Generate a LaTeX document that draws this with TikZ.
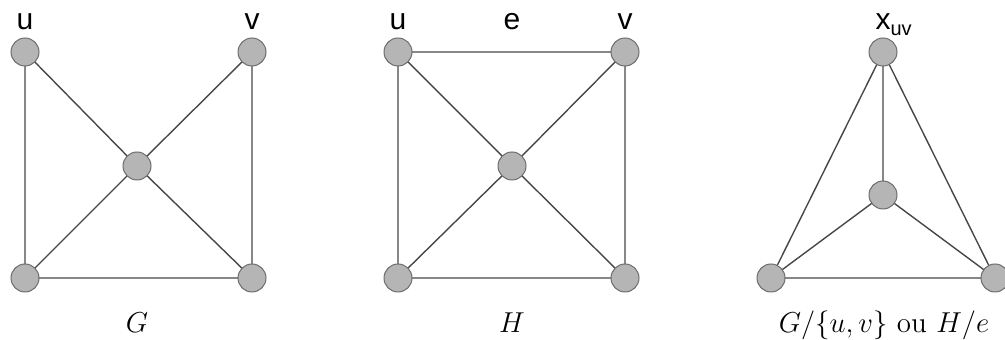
\documentclass[tikz,border=0pt]{standalone}
\usepackage{fontspec}
\newfontfamily\labfont{Liberation Sans}
\begin{document}
\begin{tikzpicture}[x=0.5pt,y=-0.5pt,
  vtx/.style={circle,fill=gray!58,draw=gray!85!black,line width=0.5pt,minimum size=14pt,inner sep=0pt},
  edge/.style={draw=black!72,line width=0.7pt},
  lab/.style={anchor=base,inner sep=0pt,font=\labfont\fontsize{15}{17}\selectfont},
  captxt/.style={anchor=base,inner sep=0pt,font=\fontsize{14.5}{17}\selectfont}]
\useasboundingbox (0,0) rectangle (1005,340);
% G
\coordinate (gu) at (25,52);
\coordinate (gv) at (252,52);
\coordinate (gc) at (137,166);
\coordinate (gl) at (25,278);
\coordinate (gr) at (252,278);
\draw[edge] (gu)--(gl) (gu)--(gc) (gv)--(gc) (gv)--(gr) (gc)--(gl) (gc)--(gr) (gl)--(gr);
\foreach \n in {gu,gv,gc,gl,gr} \node[vtx] (n\n) at (\n) {};
\node[lab] (lgu) at (25,30) {u};
\node[lab] (lgv) at (252,30) {v};
\node[captxt] (cg) at (137,333) {$G$};
% H
\coordinate (hu) at (398,52);
\coordinate (hv) at (625,52);
\coordinate (hc) at (512,166);
\coordinate (hl) at (398,278);
\coordinate (hr) at (625,278);
\draw[edge] (hu)--(hv) (hu)--(hl) (hu)--(hc) (hv)--(hc) (hv)--(hr) (hc)--(hl) (hc)--(hr) (hl)--(hr);
\foreach \n in {hu,hv,hc,hl,hr} \node[vtx] (n\n) at (\n) {};
\node[lab] (lhu) at (398,30) {u};
\node[lab] (lhe) at (512,30) {e};
\node[lab] (lhv) at (625,30) {v};
\node[captxt] (ch) at (512,333) {$H$};
% contraction
\coordinate (kx) at (883,52);
\coordinate (kc) at (883,195);
\coordinate (kl) at (771,278);
\coordinate (kr) at (995,278);
\draw[edge] (kx)--(kl) (kx)--(kc) (kx)--(kr) (kc)--(kl) (kc)--(kr) (kl)--(kr);
\foreach \n in {kx,kc,kl,kr} \node[vtx] (n\n) at (\n) {};
\node[lab] (lkx) at (883,30) {x\rlap{\raisebox{-3pt}{\fontsize{10}{12}\selectfont uv}}};
\node[captxt] (ck) at (884,333) {$G/\{u,v\}$ ou $H/e$};
\end{tikzpicture}
\end{document}
